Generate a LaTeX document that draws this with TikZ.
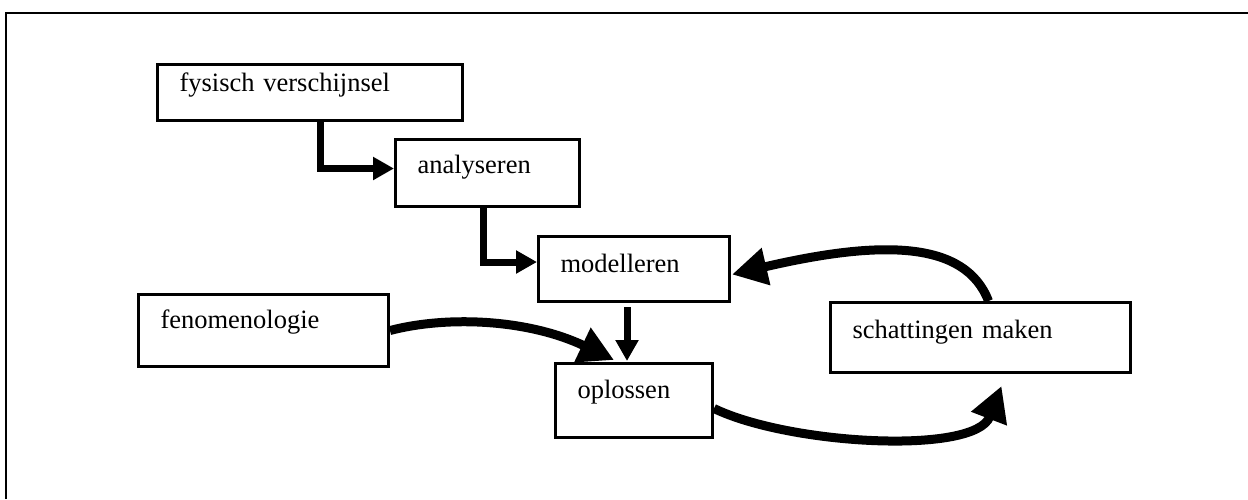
\documentclass[tikz,border=0pt]{standalone}
\usepackage{fontspec}
\setmainfont{Liberation Serif}
\usetikzlibrary{arrows.meta,calc}
\tikzset{
  box/.style={draw, line width=3pt, inner xsep=22pt, inner ysep=0pt, align=left,
    anchor=north west, font=\fontsize{26.5}{30}\selectfont},
  elbow/.style={line width=7pt, line join=miter, -{Triangle[length=21pt,width=22pt]}},
  curved/.style={line width=9pt, line cap=butt, -{Triangle[length=35pt,width=36pt]}},
  frame/.style={line width=2.5pt}
}
\begin{document}
\begin{tikzpicture}[x=1pt,y=-1pt]
\useasboundingbox (0,0) rectangle (1248,499);
\draw[frame] (6,499) -- (6,13) -- (1248,13);

\node[box, text width=261pt, text height=27pt, text depth=29pt] (fys) at (156,63) {fysisch verschijnsel};
\node[box, text width=140pt, text height=34pt, text depth=33pt] (ana) at (394,138) {analyseren};
\node[box, text width=147pt, text height=36pt, text depth=29pt] (mod) at (537,235) {modelleren};
\node[box, text width=206pt, text height=34pt, text depth=38pt] (fen) at (137,293) {fenomenologie};
\node[box, text width=113pt, text height=35pt, text depth=39pt] (opl) at (554,362) {oplossen};
\node[box, text width=256pt, text height=36pt, text depth=34pt] (sch) at (829,301) {schattingen maken};

\draw[elbow] ($(fys.south west)+(164,0)$) |- ($(ana.west)+(0,-4.5)$);
\draw[elbow] ($(ana.south west)+(89,0)$) |- ($(mod.west)+(0,-7)$);
\draw[elbow] ($(mod.south)+(-7,4)$) -- ($(opl.north)+(-7,-1)$);

\draw[curved] (fen.east) .. controls (450,315) and (530,320) .. ($(opl.north west)+(60,-2)$);
\draw[curved] ($(opl.east)+(0,8)$) .. controls (790,445) and (975,455) .. ($(sch.south)+(21,12)$);
\draw[curved] ($(sch.north)+(8,0)$) .. controls (965,240) and (880,240) .. ($(mod.east)+(1,5.5)$);
\end{tikzpicture}
\end{document}
